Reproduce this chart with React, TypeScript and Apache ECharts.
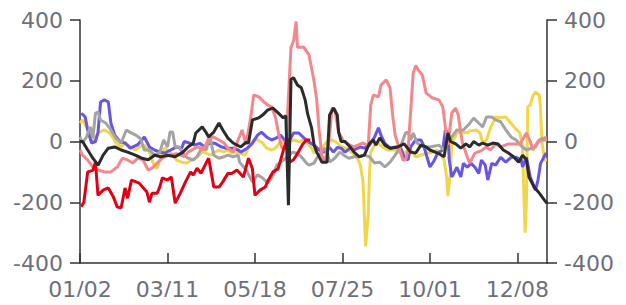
import React, { useEffect, useRef } from "react";
import * as echarts from "echarts";

// Category labels: every day from 01/02 to 12/31 (non-leap year)
const startDate = new Date(2019, 0, 2);
const dayCount = 364;
const categories: string[] = [];
for (let i = 0; i < dayCount; i++) {
  const d = new Date(startDate.getTime() + i * 86400000);
  const mm = String(d.getMonth() + 1).padStart(2, "0");
  const dd = String(d.getDate()).padStart(2, "0");
  categories.push(`${mm}/${dd}`);
}

const yTicks = [-400, -200, 0, 200, 400];

// [day index, value]
const redData: [number, number][] = [
  [1, -215], [3, -200], [6, -100], [10, -95], [12, -68], [14, -177], [18, -160], [22, -153], [26, -183], [29, -216],
  [32, -218], [35, -153], [37, -187], [40, -127], [46, -137], [52, -166], [54, -200], [56, -170], [60, -170], [62, -150],
  [64, -120], [68, -127], [71, -117], [74, -203], [78, -170], [82, -133], [86, -100], [88, -110], [91, -88], [94, -105],
  [98, -71], [100, -55], [104, -150], [108, -150], [111, -133], [115, -105], [118, -105], [122, -94], [127, -117], [131, -55],
  [134, -90], [136, -177], [140, -160], [144, -150], [146, -130], [150, -100], [154, -90], [158, -30], [161, 10], [163, -68],
  [166, -60], [169, -40], [173, -10], [176, 5], [179, 5],
];

const blackData: [number, number][] = [
  [0, 0], [2, 0], [6, -28], [10, -55], [14, -78], [18, -45], [22, -22], [27, -18], [32, -28], [37, -35],
  [43, -45], [48, -55], [53, -60], [58, -45], [63, -50], [68, -45], [74, -50], [80, -35], [84, -18], [88, -6],
  [90, 28], [95, 48], [98, 30], [100, 15], [104, 31], [108, 61], [111, 38], [115, 11], [119, -5], [125, -18],
  [129, -3], [131, -5], [134, 71], [139, 78], [142, 87], [146, 104], [150, 110], [154, 94], [158, 78], [160, 85],
  [162, -210], [164, 205], [166, 210], [169, 186], [172, 177], [175, 137], [177, 90], [180, 45], [182, -12], [184, -35],
  [188, -68], [192, -68], [194, 87], [197, 110], [200, 87], [201, 31], [203, 0], [206, 0], [210, -18], [213, -35],
  [217, -50], [221, -45], [225, -6], [228, 5], [230, -12], [233, 12], [237, -12], [241, -22], [245, -20], [247, -18],
  [252, -8], [257, -35], [261, -38], [265, -12], [269, -18], [272, -28], [278, -38], [283, -50], [286, 28], [288, 0],
  [292, -8], [296, -22], [300, -8], [303, -18], [306, 0], [310, -12], [313, -5], [317, -12], [321, -5], [325, -8],
  [329, -28], [333, -38], [337, -50], [341, -68], [344, -45], [347, -60], [349, -117], [353, -150], [357, -170], [361, -193],
  [363, -203],
];

const pinkData: [number, number][] = [
  [0, -28], [2, -45], [6, -61], [10, -84], [14, -94], [19, -100], [24, -100], [29, -84], [33, -55], [37, -61],
  [41, -71], [45, -55], [49, -61], [53, -94], [56, -88], [60, -71], [64, -55], [69, -45], [75, -40], [81, -50],
  [84, -35], [88, -25], [92, -18], [96, -28], [100, 10], [104, 15], [108, 5], [112, -5], [115, -22], [119, -35],
  [122, -5], [126, 38], [129, -10], [133, 87], [135, 153], [139, 147], [143, 130], [146, 120], [149, 114], [152, 78],
  [155, 12], [157, -22], [160, -22], [164, 310], [166, 330], [168, 395], [169, 310], [174, 310], [178, 285], [182, 197],
  [184, 137], [186, 31], [188, -45], [190, -68], [193, -20], [196, 110], [198, 107], [201, 31], [205, 0], [209, -10],
  [213, -18], [217, -10], [220, -5], [224, -15], [226, 120], [228, 153], [232, 147], [234, 186], [238, 203], [241, 177],
  [243, 87], [245, 20], [251, -61], [253, -61], [255, -30], [259, 225], [261, 250], [263, 235], [266, 220], [269, 160],
  [274, 143], [279, 137], [282, 114], [284, 48], [286, -10], [289, 94], [292, 110], [294, 87], [297, 0], [301, -51],
  [303, -71], [307, -38], [312, -30], [316, -18], [319, -28], [323, -8], [327, -18], [333, -8], [338, -8], [342, -8],
  [347, 28], [350, 0], [352, -28], [356, 0], [360, 5], [363, 5],
];

const blueData: [number, number][] = [
  [1, 93], [4, 81], [6, 38], [9, -5], [12, 0], [14, 30], [16, 130], [19, 137], [22, 130], [24, 61],
  [27, 21], [31, 0], [35, -5], [39, -22], [45, -10], [50, 15], [54, -18], [58, -28], [62, -35], [66, -38],
  [75, -18], [79, -22], [81, 0], [85, -5], [89, -12], [93, -6], [97, -18], [101, -5], [105, -6], [110, -18],
  [114, -22], [119, -22], [123, -28], [125, -35], [130, -22], [134, -6], [138, 21], [141, 31], [145, 15], [149, 5],
  [152, 10], [156, 21], [159, 5], [163, 5], [166, 28], [170, 28], [174, 12], [178, -2], [182, -12], [186, -28],
  [190, -35], [194, -20], [197, -35], [200, -20], [203, -22], [206, -35], [210, -22], [213, -28], [218, -18], [221, -22],
  [225, -12], [229, 15], [232, 45], [234, 20], [237, -6], [241, -22], [245, -18], [249, -18], [252, -50], [255, -61],
  [257, -18], [261, 5], [265, 5], [267, -12], [270, -55], [272, -84], [275, -65], [278, -38], [282, -28], [284, 38],
  [286, 28], [287, -61], [289, -117], [293, -85], [296, -117], [298, -72], [301, -85], [304, -72], [307, -85], [310, -105],
  [312, -61], [315, -78], [317, -127], [320, -72], [323, -78], [327, -52], [331, -68], [335, -52], [339, -52], [343, -61],
  [344, -84], [347, -52], [350, -117], [354, -160], [356, -127], [358, -72], [362, -40], [363, -40],
];

const grayData: [number, number][] = [
  [0, 15], [2, -5], [5, 15], [8, 48], [10, 10], [12, 93], [14, 97], [16, 71], [20, 61], [24, 38],
  [28, 10], [32, -5], [36, 38], [39, 30], [43, 22], [47, 10], [50, -28], [54, -28], [58, -45], [62, -35],
  [65, 5], [68, -18], [70, 31], [72, 31], [74, -18], [77, -18], [81, -45], [84, -55], [88, -61], [91, -50],
  [95, -18], [98, -28], [101, 15], [104, -45], [108, -55], [112, -50], [115, -45], [119, -50], [123, -45], [124, -68],
  [128, -88], [130, -100], [134, -133], [138, -110], [142, -120], [146, -137], [149, -120], [151, -100], [153, -78], [156, -68],
  [160, -55], [163, -45], [165, -35], [168, -38], [172, -50], [176, -71], [178, -78], [182, -71], [184, -55], [186, -45],
  [190, -22], [192, -35], [194, -68], [198, -55], [202, -35], [205, -45], [209, -55], [213, -50], [217, -50], [221, -45],
  [225, -50], [229, -71], [233, -68], [237, -84], [241, -68], [245, -45], [249, -18], [253, 28], [255, 31], [257, 5],
  [259, 28], [262, -5], [267, -18], [272, -18], [279, -12], [283, -28], [286, -5], [289, 15], [293, 38], [298, 38],
  [302, 55], [306, 77], [310, 60], [313, 48], [316, 81], [320, 81], [323, 71], [327, 65], [331, 38], [335, 15],
  [339, 5], [342, -10], [344, -18], [347, -28], [351, -22], [354, -18], [357, 5], [361, 12], [363, 12],
];

const yellowData: [number, number][] = [
  [0, 61], [2, 71], [5, 48], [8, 15], [10, -5], [12, 15], [15, 31], [19, 38], [23, 28], [26, 10],
  [28, -5], [32, -18], [35, -3], [39, -18], [43, -28], [46, -18], [50, -12], [54, -35], [58, -84], [60, -88],
  [64, -35], [66, -22], [70, -35], [75, -61], [79, -68], [83, -71], [87, -61], [91, -51], [95, -35], [98, -38],
  [101, -45], [105, -35], [108, -28], [112, -35], [114, -28], [118, -38], [122, -35], [124, -38], [128, -45], [131, -22],
  [135, 5], [138, 5], [142, -5], [145, -22], [149, -28], [152, -22], [155, -5], [159, 0], [163, 0], [166, 5],
  [170, 0], [174, 5], [176, 0], [180, -22], [182, -38], [186, -22], [190, -12], [192, 0], [196, 5], [200, -5],
  [203, -18], [207, -22], [211, -35], [215, -50], [218, -78], [220, -133], [222, -345], [224, -243], [225, -110], [226, -35],
  [229, -12], [232, -5], [235, -18], [239, -28], [243, -28], [246, -28], [249, -38], [253, -35], [257, -28], [261, -51],
  [265, -45], [269, -38], [272, -38], [278, -28], [280, -38], [283, -61], [285, -117], [286, -180], [288, -100], [289, -5],
  [293, 28], [297, 31], [301, 28], [303, 35], [308, 38], [311, 28], [313, -5], [316, 5], [319, 45], [321, 61],
  [323, 81], [327, 78], [331, 81], [334, 65], [338, 45], [342, 28], [344, -22], [345, -170], [346, -300], [347, -200],
  [348, 114], [350, 120], [352, 150], [354, 163], [357, 153], [358, 107], [359, 0], [361, -61], [363, -61],
];

const seriesDefs = [
  { name: "yellow", color: "#f2d64a", data: yellowData },
  { name: "blue", color: "#6655e6", data: blueData },
  { name: "gray", color: "#a3a3a3", data: grayData },
  { name: "pink", color: "#f4878c", data: pinkData },
  { name: "red", color: "#e00014", data: redData },
  { name: "black", color: "#2b2b2b", data: blackData },
];

const FONT = "DejaVu Sans";

export default function App() {
  const ref = useRef<HTMLDivElement>(null);
  useEffect(() => {
    if (!ref.current) return;
    const chart = echarts.init(ref.current, undefined, { renderer: "svg" });
    const yAxisCommon = (position: "left" | "right") => ({
      type: "value" as const,
      position,
      min: yTicks[0],
      max: yTicks[yTicks.length - 1],
      interval: 200,
      splitLine: { show: false },
      axisLine: { show: true, lineStyle: { color: "#333", width: 1.5 } },
      axisTick: { show: true, length: 10, lineStyle: { color: "#333", width: 1.5 } },
      axisLabel: { color: "#6e7079", fontSize: 22, fontFamily: FONT, margin: 17 },
    });
    chart.setOption({
      animation: false,
      grid: { left: 80, right: 79, top: 20, bottom: 42, containLabel: false },
      xAxis: {
        type: "category",
        data: categories,
        boundaryGap: false,
        axisLine: { onZero: false, lineStyle: { color: "#333", width: 1.5 } },
        axisTick: { inside: true, length: 10, interval: 67, lineStyle: { color: "#333", width: 1.5 } },
        axisLabel: { interval: 67, color: "#6e7079", fontSize: 22, fontFamily: FONT, margin: 15 },
        splitLine: { show: false },
      },
      yAxis: [yAxisCommon("left"), yAxisCommon("right")],
      series: seriesDefs.map((s) => ({
        name: s.name,
        type: "line",
        data: s.data,
        showSymbol: false,
        symbol: "none",
        lineStyle: { color: s.color, width: 3 },
        itemStyle: { color: s.color },
      })),
    });
    return () => chart.dispose();
  }, []);
  return <div ref={ref} style={{ width: 626, height: 305, margin: -8 }} />;
}
